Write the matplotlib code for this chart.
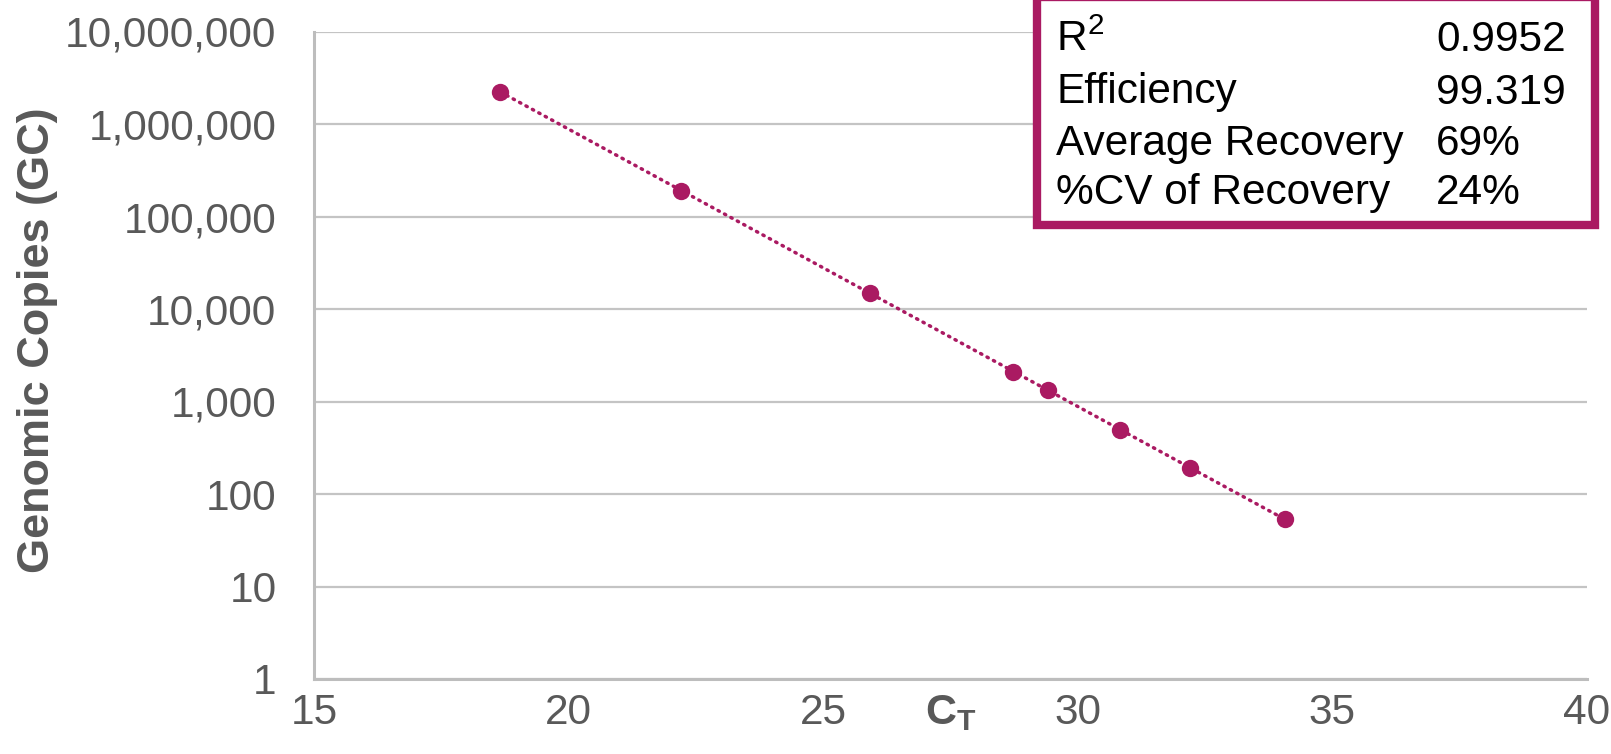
import numpy as np
import matplotlib
matplotlib.use("Agg")
import matplotlib.pyplot as plt
from matplotlib.patches import Rectangle
from matplotlib.ticker import FuncFormatter, FixedLocator

plt.rcParams['font.family'] = ['Liberation Sans', 'DejaVu Sans']
plt.rcParams['mathtext.fontset'] = 'custom'
plt.rcParams['mathtext.rm'] = 'Liberation Sans'
plt.rcParams['mathtext.bf'] = 'Liberation Sans:bold'

# Data
ct_values = [18.66, 22.21, 25.92, 28.73, 29.42, 30.83, 32.20, 34.07]
genomic_copies = [2.24e6, 1.90e5, 1.48e4, 2.10e3, 1.32e3, 498, 191, 54]
x_ticks = [15, 20, 25, 30, 35, 40]
y_ticks = [1, 10, 100, 1000, 10000, 100000, 1000000, 10000000]
stat_names = ["R$^2$", "Efficiency", "Average Recovery", "%CV of Recovery"]
stat_values = ["0.9952", "99.319", "69%", "24%"]

W, H = 1611, 754
fig = plt.figure(figsize=(W / 100, H / 100), dpi=100)
ax = fig.add_axes([314 / W, 1 - 679 / H, (1587 - 314) / W, (679 - 31.5) / H])

accent = '#AA1A62'
gray_txt = '#595959'

# trendline (log-linear fit)
xs = np.array(ct_values)
ys = np.log10(np.array(genomic_copies))
coef = np.polyfit(xs, ys, 1)
xl = np.array([xs.min(), xs.max()])
ax.plot(xl, 10 ** np.polyval(coef, xl), color=accent, lw=2.5,
        linestyle=(0, (0.4, 1.7)), dash_capstyle='round', zorder=3)
ax.plot(ct_values, genomic_copies, 'o', color=accent, markersize=12.5,
        markeredgewidth=0, zorder=4)

ax.set_yscale('log')
ax.set_xlim(15, 40)
ax.set_ylim(1, 1e7)
ax.xaxis.set_major_locator(FixedLocator(x_ticks))
ax.yaxis.set_major_locator(FixedLocator(y_ticks))
ax.yaxis.set_minor_locator(FixedLocator([]))
ax.yaxis.set_major_formatter(FuncFormatter(lambda v, p: f"{int(round(v)):,}"))
ax.xaxis.set_major_formatter(FuncFormatter(lambda v, p: f"{int(v)}"))
ax.tick_params(axis='both', length=0, labelsize=30.5, labelcolor=gray_txt)
ax.tick_params(axis='x', pad=10)
ax.tick_params(axis='y', pad=27)

ax.grid(axis='y', color='#c4c4c4', lw=1.6)
ax.set_axisbelow(True)
for s in ['top', 'right']:
    ax.spines[s].set_visible(False)
for s in ['left', 'bottom']:
    ax.spines[s].set_color('#bdbdbd')
    ax.spines[s].set_linewidth(2.2)

ax.set_ylabel("Genomic Copies (GC)", fontsize=32.5, fontweight='bold', color=gray_txt)
ax.yaxis.set_label_coords(-0.201, 0.523)
ax.set_xlabel(r"$\mathbf{C}_\mathbf{T}$", fontsize=31, color=gray_txt)
ax.xaxis.set_label_coords(0.5, -0.022)
ax.xaxis.label.set_va('top')

# stats box
rect = Rectangle((1036.5 / W, 1 - 225 / H), (1594.5 - 1036.5) / W, (225 + 3) / H,
                 transform=fig.transFigure, facecolor='white', edgecolor=accent,
                 lw=6, zorder=10, clip_on=False)
fig.patches.append(rect)
row_y = [35.5, 88, 139.5, 188.5]
for name, val, yy in zip(stat_names, stat_values, row_y):
    fig.text(1056 / W, 1 - yy / H, name, fontsize=30.5, color='black',
             ha='left', va='center_baseline', zorder=11)
    fig.text(1436 / W, 1 - yy / H, val, fontsize=30.5, color='black',
             ha='left', va='center_baseline', zorder=11)

fig.savefig('out.png', dpi=100)
